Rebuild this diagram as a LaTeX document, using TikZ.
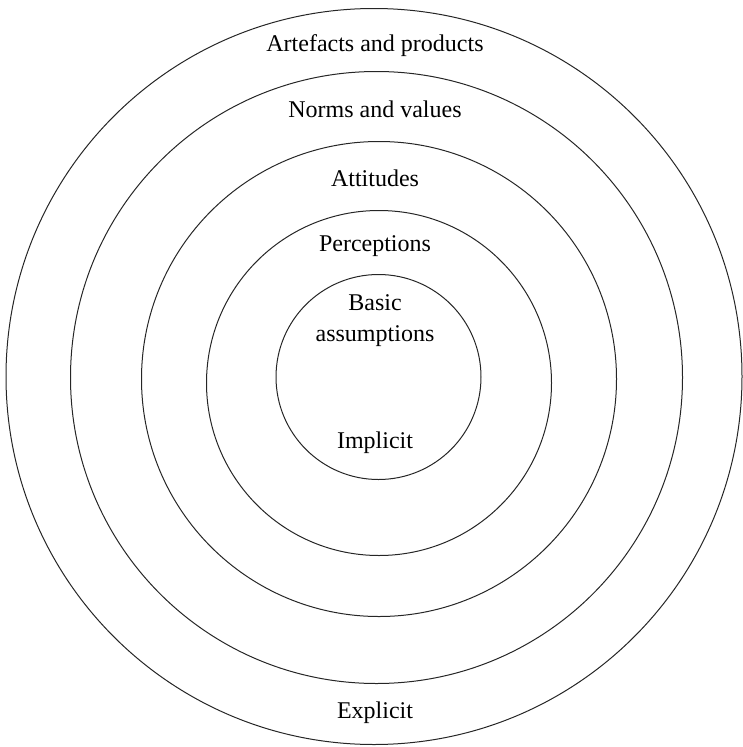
\documentclass[tikz,border=0pt]{standalone}
\usepackage{fontspec}
\setmainfont{Liberation Serif}
\begin{document}
\begin{tikzpicture}[x=1pt,y=-1pt,
  ring/.style={draw=black!85,line width=1pt},
  lbl/.style={anchor=base,inner sep=0pt,font=\fontsize{24}{31.7}\selectfont,align=center}]
\useasboundingbox (0,0) rectangle (742,747);
\draw[ring] (374,376.5) circle[radius=368];
\draw[ring] (376.5,377.5) circle[radius=306];
\draw[ring] (379,379) circle[radius=237.5];
\draw[ring] (379,383) circle[radius=172.5];
\draw[ring] (378.5,377) circle[radius=102.5];
\node[lbl] (art) at (375,51.7) {Artefacts and products};
\node[lbl] (norms) at (375,117) {Norms and values};
\node[lbl] (att) at (375,186) {Attitudes};
\node[lbl] (perc) at (375,251.7) {Perceptions};
\node[lbl] (basic) at (375,310) {Basic};
\node[lbl] (assum) at (375,341.7) {assumptions};
\node[lbl] (impl) at (375,448) {Implicit};
\node[lbl] (expl) at (375,718.3) {Explicit};
\end{tikzpicture}
\end{document}
